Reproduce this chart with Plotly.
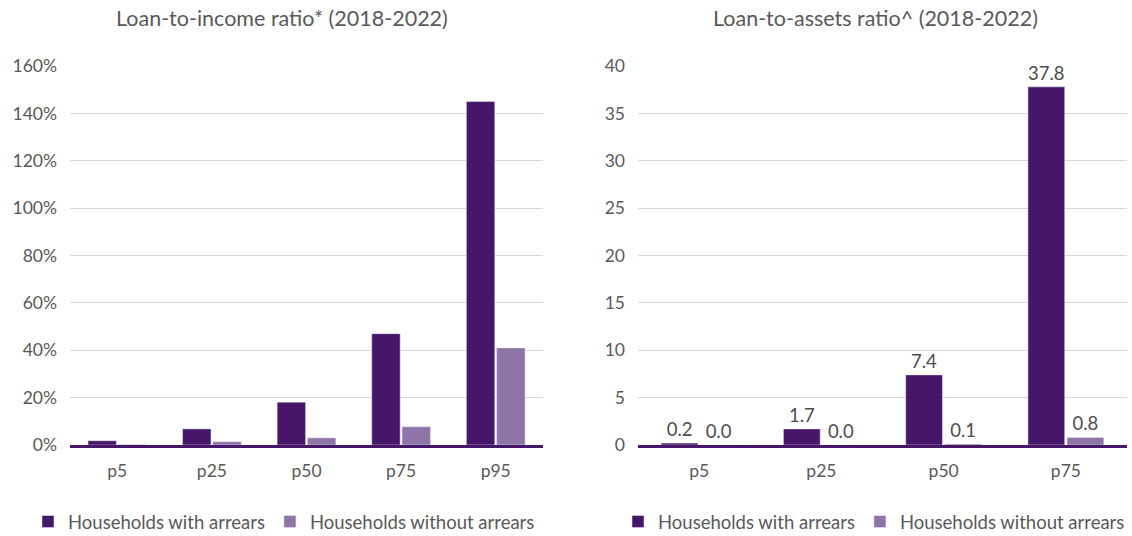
import plotly.graph_objects as go

categories_lti = ["p5", "p25", "p50", "p75", "p95"]
lti_with = [0.018, 0.068, 0.181, 0.470, 1.450]
lti_without = [0.002, 0.014, 0.030, 0.077, 0.410]

categories_lta = ["p5", "p25", "p50", "p75"]
lta_with = [0.2, 1.7, 7.4, 37.8]
lta_without = [0.0, 0.0, 0.1, 0.8]

series_names = ["Households with arrears", "Households without arrears"]
titles = ["Loan-to-income ratio* (2018-2022)", "Loan-to-assets ratio^ (2018-2022)"]

DARK = "#461769"
LIGHT = "#8f74a8"
GRAY = "#595959"
FONT = "Lato, Carlito, Calibri, sans-serif"

fig = go.Figure()
fig.add_bar(x=categories_lti, y=lti_with, name=series_names[0], marker_color=DARK,
            xaxis="x", yaxis="y", legend="legend")
fig.add_bar(x=categories_lti, y=lti_without, name=series_names[1], marker_color=LIGHT,
            xaxis="x", yaxis="y", legend="legend")
fig.add_bar(x=categories_lta, y=lta_with, name=series_names[0], marker_color=DARK,
            xaxis="x2", yaxis="y2", legend="legend2",
            text=[f"{v:.1f}" for v in lta_with], textposition="outside",
            textfont=dict(color="#4d4d4d", size=18.5), cliponaxis=False)
fig.add_bar(x=categories_lta, y=lta_without, name=series_names[1], marker_color=LIGHT,
            xaxis="x2", yaxis="y2", legend="legend2",
            text=[f"{v:.1f}" for v in lta_without], textposition="outside",
            textfont=dict(color="#4d4d4d", size=18.5), cliponaxis=False)

y0 = 1 - 445 / 536
y1 = 1 - 66 / 536

axis_common = dict(showgrid=False, showline=True, linecolor=DARK, linewidth=2.5,
                   ticks="", tickfont=dict(size=17.5, color=GRAY),
                   ticklabelstandoff=8, fixedrange=True)
yaxis_common = dict(showgrid=True, gridcolor="#d9d9d9", gridwidth=1, zeroline=False,
                    showline=False, ticks="", tickfont=dict(size=17.5, color=GRAY),
                    ticklabelstandoff=12, fixedrange=True)

legend_common = dict(orientation="h", xanchor="center", y=1 - 522 / 536,
                     yanchor="middle", font=dict(size=18.5, color=GRAY), itemwidth=30,
                     tracegroupgap=0)

fig.update_layout(
    width=1132, height=536,
    margin=dict(l=0, r=0, t=0, b=0, autoexpand=False),
    paper_bgcolor="white", plot_bgcolor="white",
    font=dict(family=FONT, color=GRAY),
    barmode="group", bargap=0.36, bargroupgap=0.06,
    xaxis=dict(domain=[70 / 1132, 543 / 1132], anchor="y", **axis_common),
    yaxis=dict(domain=[y0, y1], anchor="x", range=[0, 1.6], dtick=0.2,
               tickformat=".0%", **yaxis_common),
    xaxis2=dict(domain=[638 / 1132, 1127 / 1132], anchor="y2", **axis_common),
    yaxis2=dict(domain=[y0, y1], anchor="x2", range=[0, 40], dtick=5,
                **yaxis_common),
    legend=dict(x=284 / 1132, **legend_common),
    legend2=dict(x=874 / 1132, **legend_common),
    annotations=[
        dict(text=titles[0], x=282 / 1132, y=1 - 18 / 536, xref="paper", yref="paper",
             showarrow=False, font=dict(size=21.5, color=GRAY), xanchor="center",
             yanchor="middle"),
        dict(text=titles[1], x=875 / 1132, y=1 - 18 / 536, xref="paper", yref="paper",
             showarrow=False, font=dict(size=21.5, color=GRAY), xanchor="center",
             yanchor="middle"),
    ],
)

fig.write_html("out.html")
